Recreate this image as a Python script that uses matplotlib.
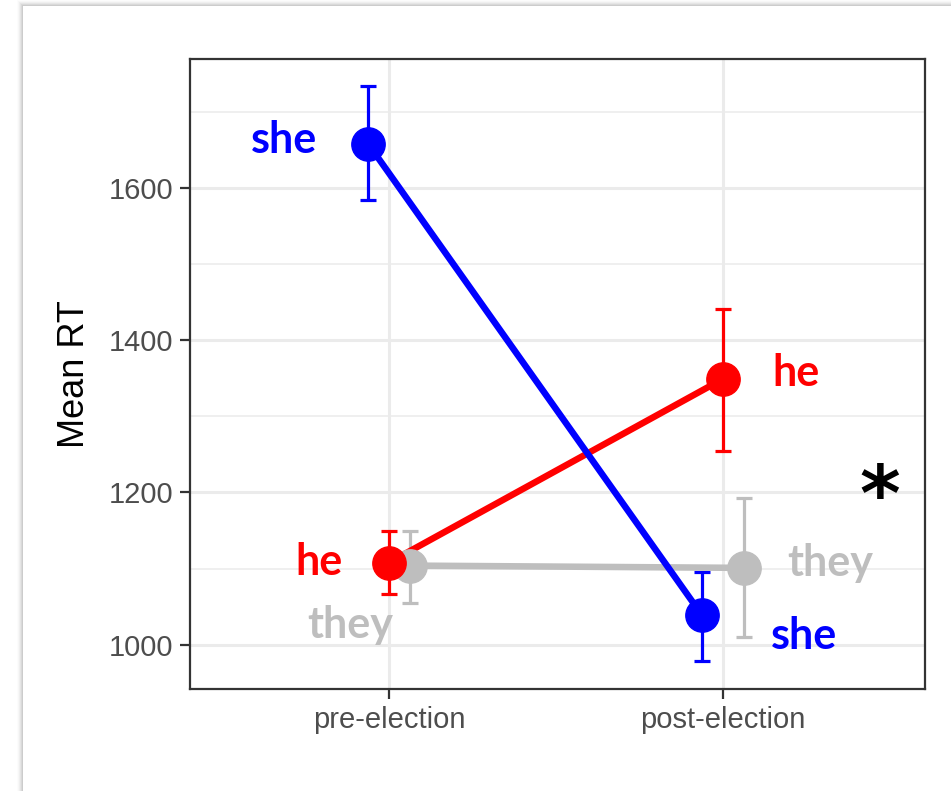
import matplotlib
matplotlib.use("Agg")
import matplotlib.pyplot as plt
from matplotlib.patches import Rectangle
import numpy as np

# Data
conditions = ["pre-election", "post-election"]
pronouns = ["she", "he", "they"]
colors = {"she": "#0000FF", "he": "#FF0000", "they": "#BEBEBE"}
mean_she = [1658, 1039]
mean_he = [1108, 1349]
mean_they = [1104, 1101]
lo_she = [1584, 979]
hi_she = [1733, 1096]
lo_he = [1067, 1255]
hi_he = [1150, 1441]
lo_they = [1055, 1010]
hi_they = [1150, 1193]
dodge = {"she": -0.063, "he": 0.0, "they": 0.063}

means = {"she": mean_she, "he": mean_he, "they": mean_they}
los = {"she": lo_she, "he": lo_he, "they": lo_they}
his = {"she": hi_she, "he": hi_he, "they": hi_they}

# label offsets (pixels) relative to each point: (pre, post)
label_off = {
    "she": [(-84, 4), (102, -21)],
    "he": [(-70, 1), (73, 6)],
    "they": [(-60, -59), (86, 5)],
}

W, H = 951, 791
fig = plt.figure(figsize=(W / 100, H / 100), dpi=100)
fig.patch.set_facecolor("white")

# card with soft shadow
cx, cy = 23, 6
for i, a in enumerate([0.012, 0.02, 0.03, 0.04, 0.05, 0.06]):
    d = 6 - i
    fig.patches.append(Rectangle(((cx - d) / W, 0), 1, (H - cy + d) / H,
                                 transform=fig.transFigure, facecolor="black",
                                 alpha=a, edgecolor="none", zorder=0))
fig.patches.append(Rectangle((cx / W, 0), 1, (H - cy) / H, transform=fig.transFigure,
                             facecolor="white", edgecolor="none", zorder=0.5))

ax = fig.add_axes([190 / W, (H - 689) / H, (925 - 190) / W, (689 - 59) / H])
ax.set_facecolor("white")
ax.set_zorder(2)

x = np.arange(1, len(conditions) + 1)
for p in ["they", "he", "she"]:
    xs = x + dodge[p]
    m = np.array(means[p])
    lo = np.array(los[p])
    hi = np.array(his[p])
    ax.errorbar(xs, m, yerr=[m - lo, hi - m], fmt="none", ecolor=colors[p],
                elinewidth=2.3, capsize=5.5, capthick=2.3, zorder=3)
    ax.plot(xs, m, color=colors[p], lw=4.7, zorder=4, solid_capstyle="butt")
    ax.plot(xs, m, "o", color=colors[p], ms=24, zorder=5)
    for j in range(len(xs)):
        ax.annotate(p, (xs[j], m[j]), xytext=label_off[p][j], textcoords="offset pixels",
                    ha="center", va="center", color=colors[p], fontsize=31,
                    fontweight="bold", family="Lato", zorder=6)

ax.text(2.47, 1192, "*", ha="center", va="center", fontsize=56, fontweight="bold",
        family="DejaVu Sans", color="black")

ax.set_xlim(0.404, 2.605)
ax.set_ylim(942, 1769)
ax.set_xticks(x)
ax.set_xticklabels(conditions)
ax.set_yticks([1000, 1200, 1400, 1600])
ax.set_yticks([1100, 1300, 1500, 1700], minor=True)
ax.grid(True, which="major", color="#EBEBEB", lw=2.2, zorder=0)
ax.grid(True, which="minor", axis="y", color="#EBEBEB", lw=1.1, zorder=0)
ax.set_axisbelow(True)
ax.tick_params(which="minor", length=0)
ax.tick_params(which="major", length=7, width=1.6, color="#333333",
               labelsize=21, labelcolor="#4D4D4D", pad=5)
for lab in ax.get_xticklabels() + ax.get_yticklabels():
    lab.set_family("Liberation Sans")
for s in ax.spines.values():
    s.set_color("#333333")
    s.set_linewidth(1.6)
ax.set_ylabel("Mean RT", fontsize=26, family="Liberation Sans", labelpad=12)

fig.savefig("out.png", dpi=100, facecolor=fig.get_facecolor())
